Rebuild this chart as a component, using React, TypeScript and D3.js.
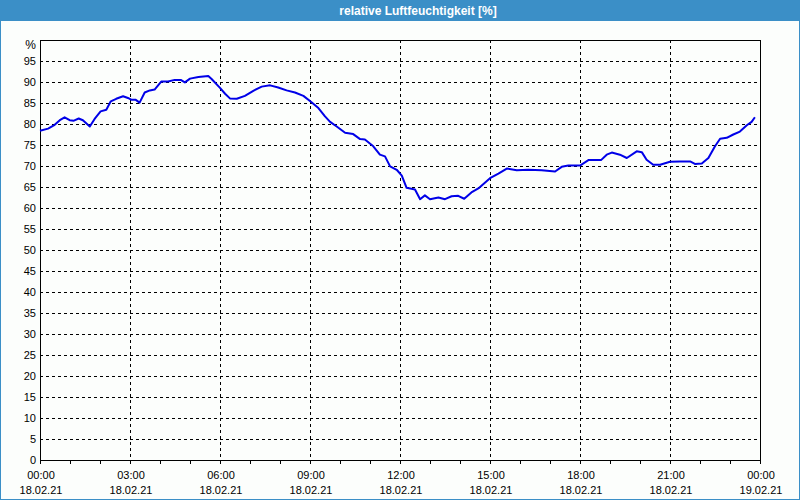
import React from "react";
import * as d3 from "d3";

const title = "relative Luftfeuchtigkeit [%]";
const unitLabel = "%";

const hours = [
  0.0, 0.27, 0.49, 0.66, 0.82, 0.99, 1.13, 1.29, 1.43, 1.66, 1.82, 2.02, 2.21, 2.36, 2.54, 2.77, 2.93,
  3.04, 3.18, 3.32, 3.49, 3.66, 3.82, 4.04, 4.27, 4.49, 4.69, 4.83, 5.0, 5.28, 5.61, 5.72, 6.0, 6.17,
  6.33, 6.56, 6.83, 7.11, 7.39, 7.67, 7.94, 8.22, 8.5, 8.78, 9.03, 9.28, 9.5, 9.67, 9.89, 10.17, 10.44,
  10.67, 10.83, 11.11, 11.33, 11.5, 11.67, 11.89, 12.06, 12.22, 12.5, 12.67, 12.83, 13.0, 13.28, 13.5,
  13.72, 13.94, 14.14, 14.38, 14.64, 15.0, 15.28, 15.56, 15.89, 16.28, 16.72, 17.17, 17.39, 17.61, 18.0,
  18.28, 18.7, 18.89, 19.06, 19.33, 19.56, 19.89, 20.06, 20.22, 20.44, 20.67, 21.0, 21.33, 21.67, 21.83,
  22.06, 22.28, 22.5, 22.67, 22.89, 23.11, 23.33, 23.56, 23.72, 23.83,
];

const humidity = [
  78.4, 78.9, 79.8, 80.9, 81.6, 80.9, 80.8, 81.3, 80.9, 79.4, 81.2, 83.0, 83.4, 85.4, 86.0, 86.6, 86.2,
  85.8, 85.8, 85.1, 87.5, 88.0, 88.2, 90.1, 90.1, 90.5, 90.5, 89.9, 90.8, 91.2, 91.4, 90.7, 88.6, 87.2,
  86.1, 86.0, 86.7, 87.9, 88.9, 89.2, 88.7, 88.0, 87.5, 86.7, 85.3, 83.8, 81.8, 80.5, 79.4, 77.9, 77.6,
  76.4, 76.3, 74.7, 72.7, 72.3, 69.9, 69.1, 67.7, 64.8, 64.4, 62.1, 63.0, 62.1, 62.5, 62.1,
  62.8, 62.9, 62.2, 63.7, 64.8, 67.1, 68.2, 69.4, 69.0, 69.1, 69.0, 68.7, 69.8, 70.1, 70.1,
  71.4, 71.4, 72.7, 73.2, 72.7, 71.9, 73.5, 73.3, 71.5, 70.3, 70.3, 71.0, 71.1, 71.1, 70.5,
  70.6, 71.9, 74.7, 76.5, 76.7, 77.5, 78.2, 79.7, 80.5, 81.6,
];

const yTicks = [0, 5, 10, 15, 20, 25, 30, 35, 40, 45, 50, 55, 60, 65, 70, 75, 80, 85, 90, 95];
const xMajorHours = [0, 3, 6, 9, 12, 15, 18, 21, 24];
const xMinorHours = d3.range(0, 25, 1);
const xTimeLabels = ["00:00", "03:00", "06:00", "09:00", "12:00", "15:00", "18:00", "21:00", "00:00"];
const xDateLabels = ["18.02.21", "18.02.21", "18.02.21", "18.02.21", "18.02.21", "18.02.21", "18.02.21", "18.02.21", "19.02.21"];

export default function App() {
  const W = 800;
  const H = 500;
  const left = 40, right = 760, top = 40, bottom = 460;
  const x = d3.scaleLinear().domain([0, 24]).range([left, right]);
  const y = d3.scaleLinear().domain([0, 100]).range([bottom, top]);
  const data = hours.map((h, i) => [h, humidity[i]] as [number, number]);
  const line = d3.line<[number, number]>().x((d) => x(d[0])).y((d) => y(d[1]));
  const font = "'Liberation Sans', Arial, sans-serif";
  const blue = "#3b8fc7";

  return (
    <svg width={W} height={H} style={{ position: "absolute", left: 0, top: 0 }} fontFamily={font}>
      <rect x={0} y={0} width={W} height={H} fill={blue} />
      <rect x={1} y={21} width={W - 2} height={H - 22} fill="#fcfefc" />
      <text x={418} y={15} textAnchor="middle" fill="#ffffff" fontWeight="bold" fontSize={12}>
        {title}
      </text>

      {yTicks.filter((t) => t > 0).map((t) => (
        <line key={"gy" + t} x1={left} x2={right} y1={Math.round(y(t)) + 0.5} y2={Math.round(y(t)) + 0.5}
          stroke="#000" strokeDasharray="3,3" strokeWidth={1} />
      ))}
      {xMajorHours.filter((h) => h > 0 && h < 24).map((h) => (
        <line key={"gx" + h} x1={Math.round(x(h)) + 0.5} x2={Math.round(x(h)) + 0.5} y1={top} y2={bottom}
          stroke="#000" strokeDasharray="3,3" strokeWidth={1} />
      ))}

      <rect x={left + 0.5} y={top + 0.5} width={right - left} height={bottom - top} fill="none" stroke="#000" strokeWidth={1} />

      {xMinorHours.map((h) => (
        <line key={"tk" + h} x1={Math.round(x(h)) + 0.5} x2={Math.round(x(h)) + 0.5} y1={bottom} y2={bottom + 4}
          stroke="#000" strokeWidth={1} />
      ))}

      <path d={line(data) || ""} fill="none" stroke="#0000e8" strokeWidth={2} strokeLinejoin="round" />

      {yTicks.map((t) => (
        <text key={"ly" + t} x={36} y={y(t) + 4} textAnchor="end" fontSize={11} fill="#000">{t}</text>
      ))}
      <text x={36} y={y(100) + 9} textAnchor="end" fontSize={12} fill="#000">{unitLabel}</text>

      {xMajorHours.map((h, i) => (
        <g key={"lx" + h}>
          <text x={x(h) + 1} y={479} textAnchor="middle" fontSize={11} fill="#000">{xTimeLabels[i]}</text>
          <text x={x(h) + 1} y={494} textAnchor="middle" fontSize={11} fill="#000">{xDateLabels[i]}</text>
        </g>
      ))}
    </svg>
  );
}
